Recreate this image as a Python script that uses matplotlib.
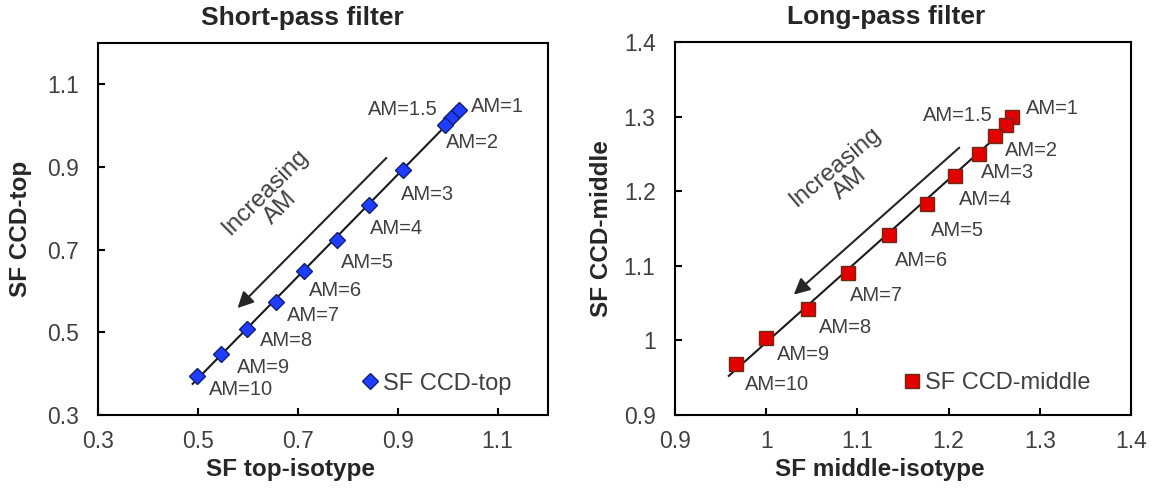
import numpy as np
import matplotlib
matplotlib.use("Agg")
import matplotlib.pyplot as plt

plt.rcParams['font.family'] = ['Liberation Sans', 'DejaVu Sans']

# air mass labels
am_labels = ['AM=1', 'AM=1.5', 'AM=2', 'AM=3', 'AM=4', 'AM=5',
             'AM=6', 'AM=7', 'AM=8', 'AM=9', 'AM=10']

# short-pass filter
sp_iso = [1.022, 1.007, 0.995, 0.911, 0.843, 0.779, 0.712, 0.655, 0.597, 0.545, 0.497]
sp_ccd = [1.038, 1.018, 1.002, 0.892, 0.808, 0.724, 0.649, 0.574, 0.508, 0.447, 0.394]

# long-pass filter
lp_iso = [1.270, 1.263, 1.251, 1.233, 1.207, 1.176, 1.135, 1.090, 1.046, 1.000, 0.967]
lp_ccd = [1.300, 1.289, 1.274, 1.250, 1.220, 1.183, 1.141, 1.090, 1.042, 1.003, 0.968]

sp_ticks = [0.3, 0.5, 0.7, 0.9, 1.1]
sp_ticklabels = ['0.3', '0.5', '0.7', '0.9', '1.1']
lp_ticks = [0.9, 1.0, 1.1, 1.2, 1.3, 1.4]
lp_ticklabels = ['0.9', '1', '1.1', '1.2', '1.3', '1.4']

# label offsets in pixels (dx, dy up)
sp_offsets = [(39, 4), (-48, 9), (27, -18), (24, -24), (27, -23), (30, -23),
              (32, -20), (38, -14), (40, -11), (43, -13), (44, -13)]
lp_offsets = [(40, 8), (-48, 9), (36, -14), (29, -18), (31, -23), (31, -27),
              (32, -25), (28, -22), (37, -18), (37, -16), (41, -20)]

TXT = '#404040'
DARK = '#262626'

fig = plt.figure(figsize=(11.55, 4.88), dpi=100)
ax1 = fig.add_axes([0.0851, 0.1496, 0.389, 0.762])
ax2 = fig.add_axes([0.5844, 0.1496, 0.3948, 0.764])


def panel(ax, x, y, offsets, marker, ms, fc, ec, legend_label, lims, ticks, ticklabels,
          title, title_x, xlabel, xlabel_x, ylabel, ylabel_x, arrow, txt_pos, txt_rot, leg_anchor):
    x = np.array(x)
    y = np.array(y)
    k, b = np.polyfit(x, y, 1)
    xl = np.array([x.min() - 0.008, x.max() + 0.004])
    ax.plot(xl, k * xl + b, color='#1a1a1a', lw=1.5, zorder=2)
    ax.plot(x, y, ls='none', marker=marker, ms=ms, mfc=fc, mec=ec, mew=1.0,
            zorder=3, label=legend_label)
    for xi, yi, lab, (dx, dy) in zip(x, y, am_labels, offsets):
        ax.annotate(lab, (xi, yi), xytext=(dx * 0.72, dy * 0.72), textcoords='offset points',
                    ha='center', va='center', fontsize=14.5, color=TXT)
    ax.annotate('', xy=arrow[1], xytext=arrow[0],
                arrowprops=dict(arrowstyle='-|>', color=DARK, lw=1.5, mutation_scale=24))
    ax.text(txt_pos[0], txt_pos[1], 'Increasing\nAM', rotation=txt_rot, ha='center', va='center',
            fontsize=17.5, color=TXT, linespacing=1.0, rotation_mode='anchor')
    ax.set_xlim(lims)
    ax.set_ylim(lims)
    ax.set_xticks(ticks)
    ax.set_xticklabels(ticklabels)
    ax.set_yticks(ticks)
    ax.set_yticklabels(ticklabels)
    ax.tick_params(direction='in', length=5, width=1.5, labelsize=16.5, labelcolor=TXT)
    ax.tick_params(axis='x', pad=11)
    ax.tick_params(axis='y', pad=14)
    for s in ax.spines.values():
        s.set_linewidth(1.5)
        s.set_color('black')
    ax.text(title_x, 1.067, title, transform=ax.transAxes, ha='center', va='center',
            fontsize=19, fontweight='bold', color=DARK)
    ax.set_xlabel(xlabel, fontsize=17.5, fontweight='bold', color=DARK)
    ax.xaxis.set_label_coords(xlabel_x, -0.116)
    ax.set_ylabel(ylabel, fontsize=17.5, fontweight='bold', color=DARK)
    ax.yaxis.set_label_coords(ylabel_x, 0.5)
    ax.legend(loc='lower right', bbox_to_anchor=leg_anchor, frameon=False, borderpad=0,
              borderaxespad=0, handlelength=0.6, handletextpad=0.25, fontsize=17,
              labelcolor=TXT)


panel(ax1, sp_iso, sp_ccd, sp_offsets, 'D', 8, '#1f3dff', '#14206e', 'SF CCD-top',
      (0.3, 1.2), sp_ticks, sp_ticklabels,
      'Short-pass filter', 0.454, 'SF top-isotype', 0.427, 'SF CCD-top', -0.148,
      ((0.881, 0.927), (0.575, 0.554)), (0.650, 0.821), 45, (0.92, 0.055))

panel(ax2, lp_iso, lp_ccd, lp_offsets, 's', 9.5, '#e30000', '#6b2a16', 'SF CCD-middle',
      (0.9, 1.4), lp_ticks, lp_ticklabels,
      'Long-pass filter', 0.463, 'SF middle-isotype', 0.45, 'SF CCD-middle', -0.136,
      ((1.214, 1.261), (1.028, 1.059)), (1.084, 1.222), 40, (0.912, 0.055))

fig.savefig('out.png', dpi=100)
